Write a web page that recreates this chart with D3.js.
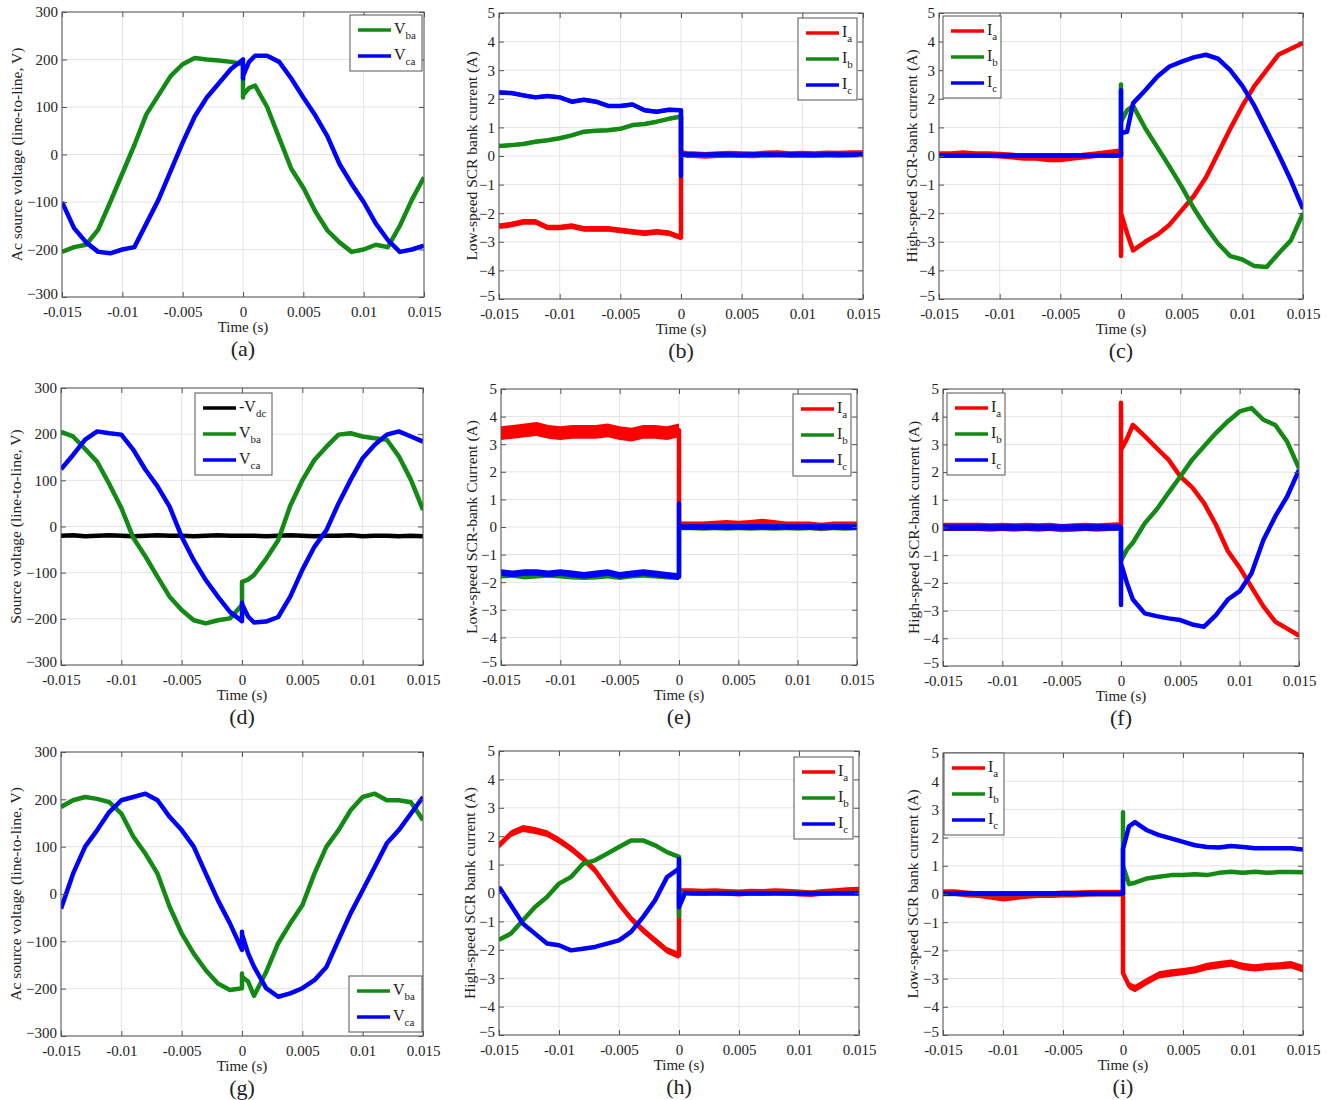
<!DOCTYPE html>
<html>
<head>
<meta charset="utf-8">
<script src="https://cdnjs.cloudflare.com/ajax/libs/d3/7.8.5/d3.min.js"></script>
<style>
body { margin: 0; background: #fff; }
svg text { font-family: "Liberation Serif", "Times New Roman", serif; fill: #222; }
</style>
</head>
<body>
<script>
// sample times in ms: 15 before switching, three at t=0 (before / transient / after), 0.5, then 1..15
var timeMs = [-15,-14,-13,-12,-11,-10,-9,-8,-7,-6,-5,-4,-3,-2,-1, 0,0,0, 0.5, 1,2,3,4,5,6,7,8,9,10,11,12,13,14,15];
var xTicks = [-0.015, -0.01, -0.005, 0, 0.005, 0.01, 0.015];
var xTickLabels = ["-0.015", "-0.01", "-0.005", "0", "0.005", "0.01", "0.015"];
var voltTicks = [-300, -200, -100, 0, 100, 200, 300];
var ampTicks = [-5, -4, -3, -2, -1, 0, 1, 2, 3, 4, 5];

// (a)
var aVba = [-205,-195,-190,-158,-100,-40,20,85,125,165,190,203,200,198,195, 190,120,125, 140, 145,100,35,-30,-70,-120,-160,-185,-205,-200,-190,-195,-150,-95,-48];
var aVca = [-100,-155,-185,-205,-208,-200,-195,-145,-95,-35,25,80,120,150,180, 200,160,165, 195, 208,208,195,160,120,82,38,-20,-62,-100,-145,-180,-205,-200,-192];
// (b)
var bIa = [-2.45,-2.4,-2.3,-2.3,-2.5,-2.5,-2.45,-2.55,-2.55,-2.55,-2.6,-2.65,-2.7,-2.65,-2.7, -2.85,1.4,0.1, 0.05, 0.05,0.02,0.05,0.06,0.05,0.04,0.07,0.08,0.05,0.06,0.05,0.07,0.06,0.08,0.08];
var bIb = [0.35,0.38,0.42,0.5,0.55,0.62,0.72,0.85,0.88,0.9,0.95,1.08,1.12,1.2,1.3, 1.38,0.0,0.05, 0.04, 0.03,0.03,0.04,0.03,0.03,0.04,0.03,0.03,0.04,0.03,0.03,0.04,0.03,0.03,0.04];
var bIc = [2.22,2.2,2.12,2.05,2.1,2.05,1.9,1.97,1.9,1.75,1.75,1.8,1.6,1.55,1.62, 1.6,-0.7,0.05, 0.05, 0.05,0.04,0.05,0.05,0.04,0.05,0.05,0.04,0.05,0.05,0.04,0.05,0.05,0.04,0.05];
// (c)
var cIa = [0.05,0.05,0.08,0.05,0.05,0.03,0.0,-0.05,-0.05,-0.1,-0.1,-0.05,0.0,0.05,0.1, 0.15,-3.5,-2.0, -2.7, -3.3,-3.0,-2.75,-2.4,-1.9,-1.4,-0.75,0.1,0.95,1.75,2.45,3.0,3.55,3.75,3.95];
var cIb = [0.02,0.02,0.02,0.02,0.02,0.02,0.02,0.02,0.02,0.02,0.02,0.02,0.02,0.02,0.02, 0.02,2.5,1.2, 1.6, 1.75,0.97,0.3,-0.37,-1.07,-1.83,-2.48,-3.06,-3.5,-3.62,-3.85,-3.88,-3.4,-2.95,-2.0];
var cIc = [0.02,0.02,0.02,0.02,0.02,0.02,0.02,0.02,0.02,0.02,0.02,0.02,0.02,0.02,0.02, 0.02,2.3,0.8, 0.85, 1.85,2.3,2.78,3.13,3.3,3.45,3.54,3.4,3.0,2.45,1.75,0.9,0.05,-0.85,-1.85];
// (d)
var dVdc = [-20,-19,-21,-20,-19,-20,-21,-20,-19,-20,-20,-21,-20,-19,-20, -20,-20,-20, -20, -20,-21,-20,-19,-20,-21,-20,-20,-19,-21,-20,-20,-21,-20,-21];
var dVba = [205,195,168,140,92,40,-25,-65,-109,-152,-181,-203,-210,-203,-199, -170,-120,-120, -115, -105,-70,-30,45,100,144,173,199,202,195,191,188,152,101,36];
var dVca = [124,155,188,206,202,199,166,123,87,43,-22,-73,-116,-152,-185, -205,-165,-168, -195, -208,-206,-196,-152,-94,-44,-8,50,101,148,177,199,206,195,184];
// (e)
var eIa = [3.4,3.45,3.5,3.55,3.45,3.4,3.45,3.45,3.45,3.5,3.4,3.35,3.45,3.45,3.4, 3.5,0.9,0.05, 0.05, 0.05,0.05,0.08,0.1,0.08,0.1,0.15,0.1,0.05,0.05,0.05,0.0,0.05,0.05,0.05];
var eIb = [-1.75,-1.72,-1.78,-1.75,-1.72,-1.75,-1.78,-1.8,-1.78,-1.75,-1.8,-1.75,-1.72,-1.75,-1.78, -1.8,0.0,0.0, 0.0, 0.0,-0.02,0.0,-0.02,0.0,-0.02,0.0,-0.02,0.0,-0.02,0.0,-0.02,0.0,-0.02,0.0];
var eIc = [-1.65,-1.7,-1.65,-1.65,-1.7,-1.65,-1.7,-1.75,-1.7,-1.65,-1.75,-1.7,-1.65,-1.7,-1.75, -1.8,0.85,0.0, 0.0, 0.0,0.0,0.0,0.0,0.0,0.0,0.0,0.0,0.0,0.0,0.0,0.0,0.0,0.0,0.0];
// (f)
var fIa = [0.02,0.02,0.02,0.02,0.0,0.02,0.0,0.02,0.0,0.02,-0.02,0.0,0.02,0.0,0.02, 0.05,4.5,2.8, 3.2, 3.7,3.3,2.87,2.45,1.84,1.45,0.88,0.1,-0.85,-1.45,-2.15,-2.85,-3.4,-3.65,-3.9];
var fIb = [0.0,0.0,0.0,0.0,0.0,0.0,0.0,0.0,0.0,0.0,0.0,0.0,0.0,0.0,0.0, 0.0,-1.2,-1.2, -0.8, -0.55,0.15,0.65,1.25,1.84,2.45,2.93,3.41,3.83,4.19,4.31,3.89,3.7,3.1,2.14];
var fIc = [0.0,0.0,0.0,0.0,0.0,0.0,0.0,0.0,0.0,0.0,0.0,0.0,0.0,0.0,0.0, 0.0,-2.8,-1.3, -2.0, -2.6,-3.1,-3.2,-3.28,-3.34,-3.5,-3.58,-3.16,-2.6,-2.3,-1.65,-0.45,0.4,1.12,2.08];
// (g)
var gVba = [184,198,205,201,194,170,121,85,43,-27,-83,-126,-161,-189,-203, -199,-168,-175, -185, -215,-165,-104,-62,-24,43,100,135,177,205,212,198,198,194,156];
var gVca = [-31,43,100,135,173,198,205,212,198,163,135,100,43,-13,-62, -118,-80,-85, -125, -154,-199,-217,-210,-199,-182,-154,-97,-41,8,57,107,135,170,205];
// (h)
var hIa = [1.68,2.09,2.27,2.2,2.09,1.85,1.56,1.21,0.8,0.21,-0.38,-0.9,-1.31,-1.67,-2.02, -2.2,-0.9,0.05, 0.05, 0.05,0.03,0.05,0.02,0.0,0.03,0.02,0.05,0.03,0.0,-0.02,0.02,0.05,0.08,0.1];
var hIb = [-1.65,-1.43,-0.96,-0.49,-0.14,0.33,0.56,1.03,1.15,1.38,1.62,1.85,1.85,1.68,1.44, 1.27,-0.8,0.0, 0.0, 0.0,0.0,0.0,0.0,0.0,0.0,0.0,0.0,0.0,0.0,0.0,0.0,0.0,0.0,0.0];
var hIc = [0.21,-0.43,-1.08,-1.43,-1.78,-1.84,-2.02,-1.96,-1.9,-1.78,-1.67,-1.37,-0.85,-0.26,0.56, 0.86,1.2,-0.5, 0.0, -0.02,-0.02,-0.02,-0.02,-0.02,-0.02,-0.02,-0.02,-0.02,-0.02,-0.02,-0.02,-0.02,-0.02,-0.02];
// (i)
var iIa = [0.05,0.05,0.0,-0.02,-0.08,-0.15,-0.1,-0.05,-0.02,-0.02,0.0,0.0,0.02,0.03,0.03, 0.03,-2.8,-2.8, -3.25, -3.35,-3.1,-2.87,-2.8,-2.75,-2.69,-2.57,-2.51,-2.45,-2.57,-2.62,-2.57,-2.55,-2.51,-2.65];
var iIb = [0.0,0.0,0.0,0.0,0.0,0.0,0.0,0.0,0.0,0.0,0.0,0.0,0.0,0.0,0.0, 0.0,2.9,1.0, 0.35, 0.4,0.55,0.61,0.67,0.67,0.7,0.67,0.75,0.79,0.75,0.79,0.75,0.78,0.78,0.77];
var iIc = [0.02,0.02,0.02,0.02,0.02,0.02,0.02,0.02,0.02,0.02,0.02,0.02,0.02,0.02,0.02, 0.02,1.6,1.6, 2.4, 2.55,2.26,2.09,1.97,1.85,1.73,1.67,1.65,1.7,1.67,1.62,1.62,1.62,1.62,1.58];

var red = "#ff0000", green = "#138a13", blue = "#0000ff", black = "#000000";

function S(name, sub, values, color, noise) {
    return {name: name, sub: sub, values: values, color: color, noise: noise};
}

var panels = [
    {box: [62, 424, 12, 297], yDomain: [-300, 300], yTicks: voltTicks, yLabel: "Ac source voltage (line-to-line, V)", labelDx: -45, caption: "(a)",
     legend: [350, 15, 72], series: [S("V", "ba", aVba, green, [0, 0]), S("V", "ca", aVca, blue, [0, 0])]},
    {box: [499, 863, 13, 299], yDomain: [-5, 5], yTicks: ampTicks, yLabel: "Low-speed SCR bank current (A)", labelDx: -27, caption: "(b)",
     legend: [798, 18, 59], series: [S("I", "a", bIa, red, [0.1, 0.12]), S("I", "b", bIb, green, [0.06, 0.04]), S("I", "c", bIc, blue, [0.07, 0.07])]},
    {box: [939, 1303, 13, 299], yDomain: [-5, 5], yTicks: ampTicks, yLabel: "High-speed SCR-bank current (A)", labelDx: -27, caption: "(c)",
     legend: [943, 16, 58], series: [S("I", "a", cIa, red, [0.12, 0.05]), S("I", "b", cIb, green, [0.05, 0.03]), S("I", "c", cIc, blue, [0.07, 0.03])]},
    {box: [61, 423, 388, 665], yDomain: [-300, 300], yTicks: voltTicks, yLabel: "Source voltage (line-to-line, V)", labelDx: -45, caption: "(d)",
     legend: [195, 393, 77], series: [S("-V", "dc", dVdc, black, [2, 2]), S("V", "ba", dVba, green, [0, 0]), S("V", "ca", dVca, blue, [0, 0])]},
    {box: [501, 857, 389, 665], yDomain: [-5, 5], yTicks: ampTicks, yLabel: "Low-speed SCR-bank Current (A)", labelDx: -29, caption: "(e)",
     legend: [793, 394, 58], series: [S("I", "a", eIa, red, [0.25, 0.15]), S("I", "b", eIb, green, [0.12, 0.12]), S("I", "c", eIc, blue, [0.12, 0.1])]},
    {box: [943, 1299, 389, 666], yDomain: [-5, 5], yTicks: ampTicks, yLabel: "High-speed SCR-bank current (A)", labelDx: -29, caption: "(f)",
     legend: [947, 393, 58], series: [S("I", "a", fIa, red, [0.15, 0.08]), S("I", "b", fIb, green, [0.08, 0.05]), S("I", "c", fIc, blue, [0.12, 0.05])]},
    {box: [61, 423, 752, 1036], yDomain: [-300, 300], yTicks: voltTicks, yLabel: "Ac source voltage (line-to-line, V)", labelDx: -45, caption: "(g)",
     legend: [349, 976, 73], series: [S("V", "ba", gVba, green, [0, 0]), S("V", "ca", gVca, blue, [0, 0])]},
    {box: [499, 859, 751, 1035], yDomain: [-5, 5], yTicks: ampTicks, yLabel: "High-speed SCR bank current (A)", labelDx: -29, caption: "(h)",
     legend: [794, 757, 59], series: [S("I", "a", hIa, red, [0.12, 0.12]), S("I", "b", hIb, green, [0.05, 0.05]), S("I", "c", hIc, blue, [0.05, 0.05])]},
    {box: [943, 1303, 753, 1035], yDomain: [-5, 5], yTicks: ampTicks, yLabel: "Low-speed SCR bank current (A)", labelDx: -30, caption: "(i)",
     legend: [944, 753, 60], series: [S("I", "a", iIa, red, [0.12, 0.13]), S("I", "b", iIb, green, [0.03, 0.04]), S("I", "c", iIc, blue, [0.08, 0.06])]}
];

var svg = d3.select("body").append("svg").attr("width", 1338).attr("height", 1100);

panels.forEach(function(p, pi) {
    var x0 = p.box[0], x1 = p.box[1], y0 = p.box[2], y1 = p.box[3];
    var xScale = d3.scaleLinear().domain([-0.015, 0.015]).range([x0, x1]);
    var yScale = d3.scaleLinear().domain(p.yDomain).range([y1, y0]);
    var g = svg.append("g");

    g.append("clipPath").attr("id", "clip" + pi)
        .append("rect").attr("x", x0).attr("y", y0).attr("width", x1 - x0).attr("height", y1 - y0);

    // grid
    g.append("g").selectAll("line").data(xTicks).enter().append("line")
        .attr("x1", function(d) { return xScale(d); }).attr("x2", function(d) { return xScale(d); })
        .attr("y1", y0).attr("y2", y1).attr("stroke", "#e4e4e4").attr("stroke-width", 1);
    g.append("g").selectAll("line").data(p.yTicks).enter().append("line")
        .attr("y1", function(d) { return yScale(d); }).attr("y2", function(d) { return yScale(d); })
        .attr("x1", x0).attr("x2", x1).attr("stroke", "#e4e4e4").attr("stroke-width", 1);

    var plot = g.append("g").attr("clip-path", "url(#clip" + pi + ")");
    p.series.forEach(function(s) {
        var pts = timeMs.map(function(t, i) {
            var n = i <= 15 ? s.noise[0] : (i == 16 ? 0 : s.noise[1]);
            return {t: t / 1000, v: s.values[i], n: n};
        });
        if (s.noise[0] > 0 || s.noise[1] > 0) {
            plot.append("path").datum(pts)
                .attr("d", d3.area()
                    .x(function(d) { return xScale(d.t); })
                    .y0(function(d) { return yScale(d.v - d.n); })
                    .y1(function(d) { return yScale(d.v + d.n); }))
                .attr("fill", s.color);
        }
        plot.append("path").datum(pts)
            .attr("d", d3.line()
                .x(function(d) { return xScale(d.t); })
                .y(function(d) { return yScale(d.v); }))
            .attr("fill", "none").attr("stroke", s.color)
            .attr("stroke-width", 4.5).attr("stroke-linejoin", "round");
    });

    // axes with inward ticks on all four sides
    var axColor = "#555";
    var bottom = g.append("g").attr("transform", "translate(0," + y1 + ")")
        .call(d3.axisBottom(xScale).tickValues(xTicks)
            .tickFormat(function(d, i) { return xTickLabels[i]; })
            .tickSizeInner(-5).tickSizeOuter(0).tickPadding(9));
    var left = g.append("g").attr("transform", "translate(" + x0 + ",0)")
        .call(d3.axisLeft(yScale).tickValues(p.yTicks).tickFormat(d3.format("d"))
            .tickSizeInner(-5).tickSizeOuter(0).tickPadding(4));
    var top = g.append("g").attr("transform", "translate(0," + y0 + ")")
        .call(d3.axisTop(xScale).tickValues(xTicks).tickFormat("").tickSizeInner(-5).tickSizeOuter(0));
    var right = g.append("g").attr("transform", "translate(" + x1 + ",0)")
        .call(d3.axisRight(yScale).tickValues(p.yTicks).tickFormat("").tickSizeInner(-5).tickSizeOuter(0));
    [bottom, left, top, right].forEach(function(a) {
        a.attr("font-family", null).attr("font-size", null);
        a.select(".domain").remove();
        a.selectAll("line").attr("stroke", axColor);
        a.selectAll("text").attr("fill", "#222").style("font-size", "15px");
    });
    // lift the lowest y label a little so it clears the first time label
    left.selectAll(".tick text").filter(function(d) { return d === p.yTicks[0]; }).attr("dy", "0.1em");
    g.append("rect").attr("x", x0).attr("y", y0).attr("width", x1 - x0).attr("height", y1 - y0)
        .attr("fill", "none").attr("stroke", axColor).attr("stroke-width", 1);

    // labels
    var cx = (x0 + x1) / 2;
    g.append("text").attr("x", cx).attr("y", y1 + 35).attr("text-anchor", "middle")
        .style("font-size", "15px").text("Time (s)");
    g.append("text").attr("x", cx).attr("y", y1 + 59).attr("text-anchor", "middle")
        .style("font-size", "22px").text(p.caption);
    g.append("text")
        .attr("transform", "translate(" + (x0 + p.labelDx) + "," + ((y0 + y1) / 2) + ") rotate(-90)")
        .attr("text-anchor", "middle").attr("dy", "0.35em")
        .style("font-size", "15.5px").text(p.yLabel);

    // legend
    var lx = p.legend[0], ly = p.legend[1], lw = p.legend[2];
    var lh = 30 + 26 * (p.series.length - 1);
    var lg = g.append("g");
    lg.append("rect").attr("x", lx).attr("y", ly).attr("width", lw).attr("height", lh)
        .attr("fill", "#fff").attr("stroke", "#555").attr("stroke-width", 1);
    p.series.forEach(function(s, k) {
        var ey = ly + 15 + 26 * k;
        lg.append("line").attr("x1", lx + 8).attr("x2", lx + 41).attr("y1", ey).attr("y2", ey)
            .attr("stroke", s.color).attr("stroke-width", 3.5);
        var t = lg.append("text").attr("x", lx + 44).attr("y", ey + 4).style("font-size", "16px");
        t.append("tspan").text(s.name);
        t.append("tspan").attr("dy", 5).style("font-size", "11px").text(s.sub);
    });
});
</script>
</body>
</html>
